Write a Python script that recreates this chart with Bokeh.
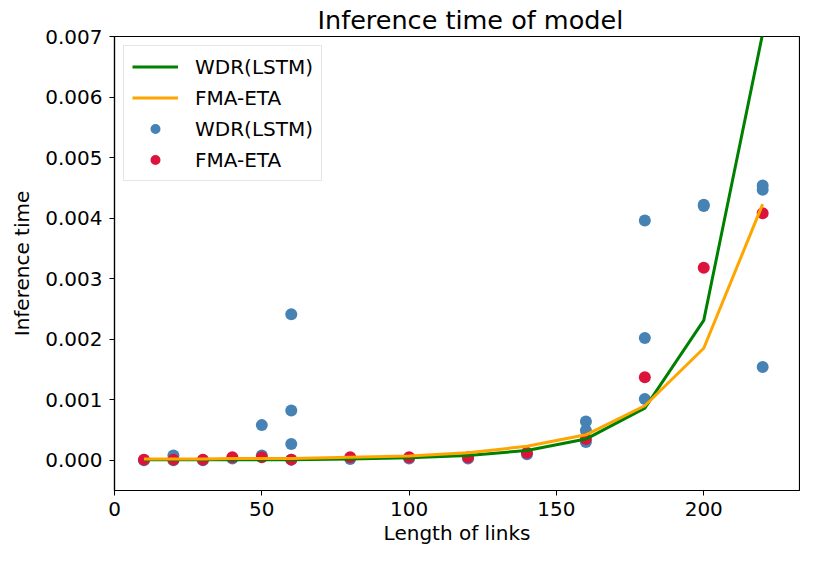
from bokeh.plotting import figure
from bokeh.models import Range1d, FixedTicker, PrintfTickFormatter, Legend, LegendItem
from bokeh.embed import file_html
from bokeh.resources import INLINE

# Line series (mean inference time per length)
line_x = [10, 20, 30, 40, 50, 60, 80, 100, 120, 140, 160, 180, 200, 220]
wdr_line = [0.00001, 0.00001, 0.00001, 0.00001, 0.00001, 0.00001, 0.00002,
            0.00004, 0.00008, 0.00016, 0.00035, 0.00086, 0.00231, 0.00705]
fma_line = [0.00002, 0.00002, 0.00002, 0.00003, 0.00003, 0.00003, 0.00005,
            0.00007, 0.000125, 0.00023, 0.00042, 0.0009, 0.00185, 0.00423]

# Scatter measurements
wdr_pts_x = [10, 20, 20, 30, 40, 50, 50, 60, 60, 60, 60, 80, 100, 120, 140,
             160, 160, 160, 180, 180, 180, 200, 200, 220, 220, 220]
wdr_pts_y = [0.00000, 0.00008, 0.00000, 0.00000, 0.00003, 0.00008, 0.00058,
             0.00001, 0.00027, 0.00082, 0.00241, 0.00002, 0.00003, 0.00003,
             0.00010, 0.00064, 0.00049, 0.00030, 0.00396, 0.00202, 0.00101,
             0.00420, 0.00422, 0.00454, 0.00447, 0.00154]
fma_pts_x = [10, 20, 30, 40, 50, 60, 80, 100, 120, 140, 160, 180, 200, 220]
fma_pts_y = [0.00001, 0.00001, 0.00001, 0.00005, 0.00005, 0.00001, 0.00005,
             0.00005, 0.00005, 0.000125, 0.00035, 0.00137, 0.00318, 0.00408]

x_ticks = [0, 50, 100, 150, 200]
y_ticks = [0.0, 0.001, 0.002, 0.003, 0.004, 0.005, 0.006, 0.007]

FONT = "DejaVu Sans"
X_MAX = 232.5

p = figure(width=800, height=547, output_backend="svg", toolbar_location=None,
           x_range=Range1d(0, X_MAX), y_range=Range1d(-0.0005, 0.007),
           title="Inference time of model",
           min_border_left=114, min_border_right=1, min_border_bottom=40, min_border_top=20)

p.title.text_font = FONT
p.title.text_font_size = "25.5px"
p.title.text_font_style = "normal"
p.title.align = "left"
p.title.offset = 203
p.title.text_color = "black"
p.title.standoff = 4

p.xgrid.visible = False
p.ygrid.visible = False
p.outline_line_color = "black"
p.outline_line_alpha = 1.0
p.outline_line_width = 1.2

for ax in (p.xaxis[0], p.yaxis[0]):
    ax.axis_line_color = "black"
    ax.axis_line_width = 1.2
    ax.major_tick_out = 5
    ax.major_tick_in = 0
    ax.major_tick_line_color = "black"
    ax.minor_tick_out = 0
    ax.minor_tick_in = 0
    ax.major_label_text_font = FONT
    ax.major_label_text_font_size = "20px"
    ax.major_label_text_color = "black"
    ax.axis_label_text_font = FONT
    ax.axis_label_text_font_size = "20px"
    ax.axis_label_text_font_style = "normal"
    ax.axis_label_text_color = "black"

p.xaxis.ticker = FixedTicker(ticks=x_ticks)
p.yaxis.ticker = FixedTicker(ticks=y_ticks)
p.yaxis.formatter = PrintfTickFormatter(format="%.3f")
p.xaxis.axis_label = "Length of links"
p.yaxis.axis_label = "Inference time"
p.xaxis.major_label_standoff = 6
p.xaxis.axis_label_standoff = 2
p.yaxis.major_label_standoff = 7
p.yaxis.axis_label_standoff = 8

s1 = p.scatter(wdr_pts_x, wdr_pts_y, size=12, color="steelblue", line_color=None)
s2 = p.scatter(fma_pts_x, fma_pts_y, size=12, color="crimson", line_color=None)
l1 = p.line(line_x, wdr_line, line_color="green", line_width=3)
l2 = p.line(line_x, fma_line, line_color="orange", line_width=3)

legend = Legend(items=[
    LegendItem(label="WDR(LSTM)", renderers=[l1]),
    LegendItem(label="FMA-ETA", renderers=[l2]),
    LegendItem(label="WDR(LSTM)", renderers=[s1]),
    LegendItem(label="FMA-ETA", renderers=[s2]),
], location="top_left")
legend.label_text_font = FONT
legend.label_text_font_size = "20px"
legend.label_text_color = "black"
legend.border_line_color = "#cccccc"
legend.border_line_width = 1.2
legend.background_fill_alpha = 0.8
legend.margin = 9
legend.padding = 8
legend.spacing = 6
legend.label_height = 25
legend.glyph_height = 25
legend.glyph_width = 46
legend.label_standoff = 17
p.add_layout(legend, "center")

open("out.html", "w").write(file_html(p, INLINE))
